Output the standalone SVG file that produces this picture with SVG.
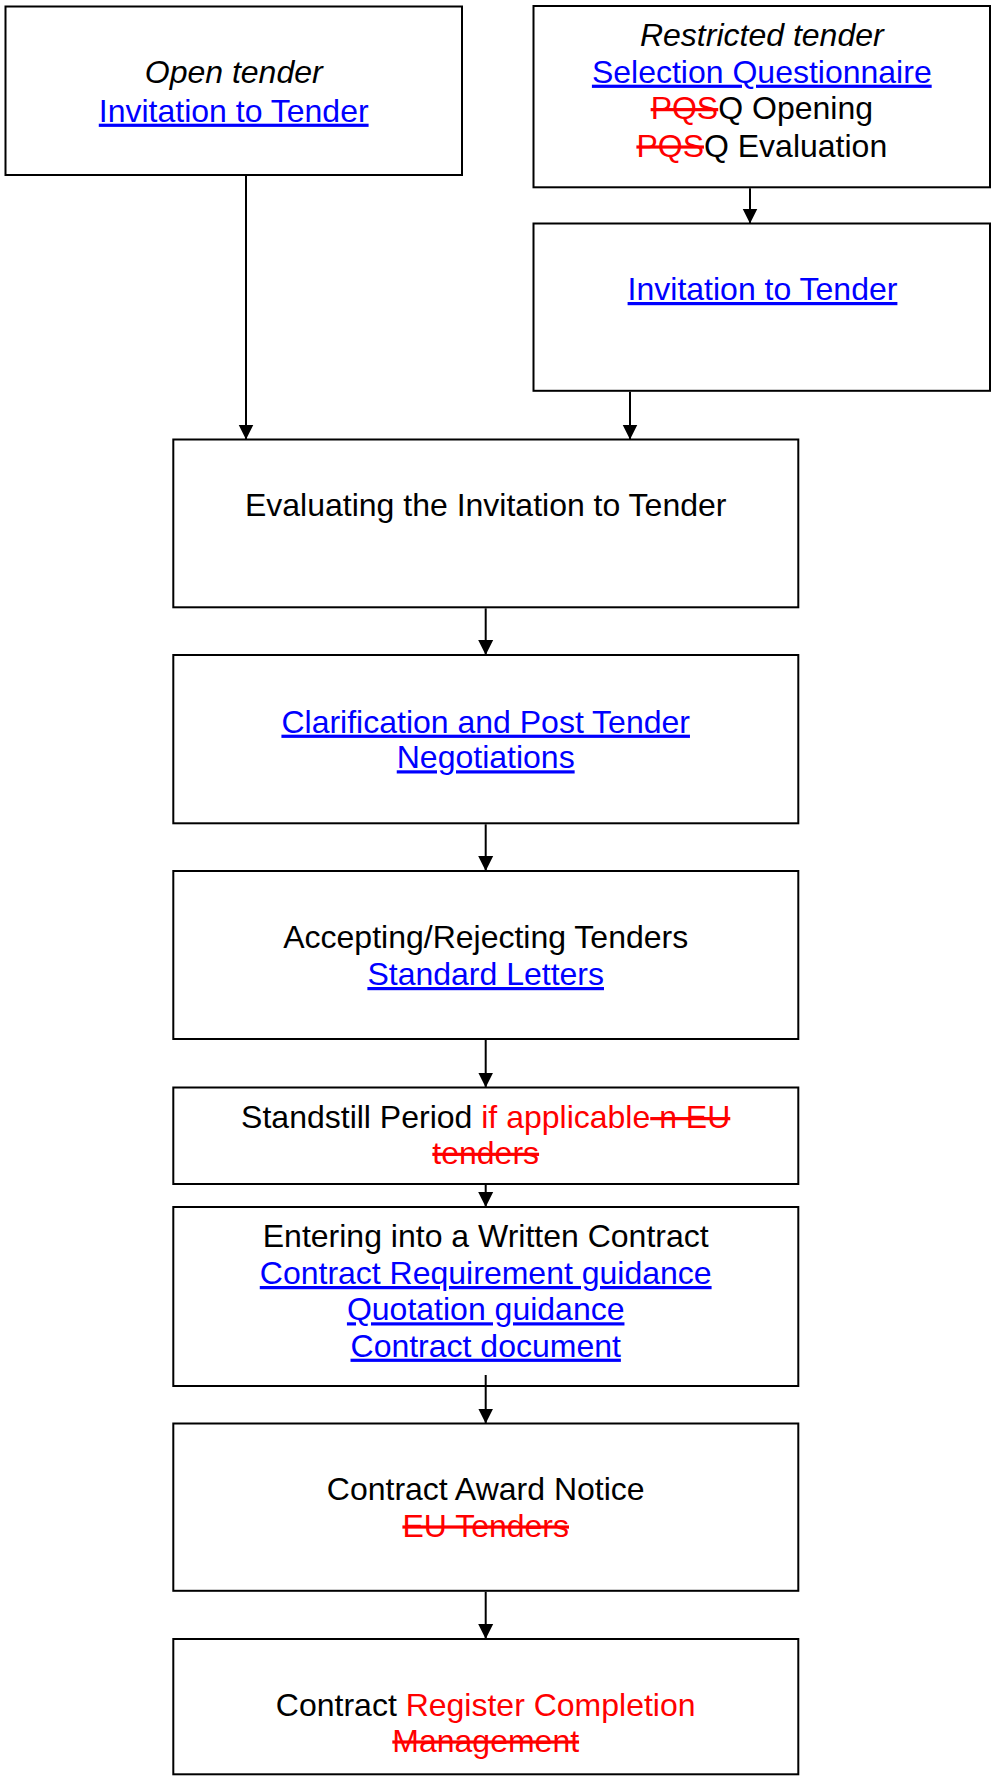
<svg xmlns="http://www.w3.org/2000/svg" width="995" height="1777" viewBox="0 0 995 1777">
<style>
.box{fill:#fff;stroke:#000;stroke-width:2}
text{font-family:"Liberation Sans",Arial,sans-serif;font-size:32px;fill:#000;text-anchor:middle}
.it{font-style:italic}
.lnk{fill:#0000ff;text-decoration:underline}
.red{fill:#ff0000}
.del{fill:#ff0000;text-decoration:line-through}
.conn line{stroke:#000;stroke-width:2;marker-end:url(#ah)}
</style>
<defs>
<marker id="ah" markerUnits="userSpaceOnUse" markerWidth="16" markerHeight="16" refX="15" refY="8" orient="auto">
<path d="M0,0.5 L15,8 L0,15.5 z" fill="#000"/>
</marker>
</defs>
<rect width="995" height="1777" fill="#fff"/>
<g id="open-tender">
<rect class="box" x="5.5" y="6.5" width="456.5" height="168.5"/>
<text x="233.7" y="83.3" class="it">Open tender</text>
<text x="233.7" y="121.7" class="lnk">Invitation to Tender</text>
</g>
<g id="restricted-tender">
<rect class="box" x="533.5" y="6" width="456.5" height="181.3"/>
<text x="761.8" y="45.7" class="it">Restricted tender</text>
<text x="761.8" y="82.7" class="lnk">Selection Questionnaire</text>
<text x="761.8" y="119.3"><tspan class="del">PQS</tspan>Q Opening</text>
<text x="761.8" y="156.7"><tspan class="del">PQS</tspan>Q Evaluation</text>
</g>
<g id="restricted-itt">
<rect class="box" x="533.5" y="223.5" width="456.5" height="167.3"/>
<text x="762.5" y="300" class="lnk">Invitation to Tender</text>
</g>
<g id="evaluating">
<rect class="box" x="173.3" y="439.5" width="625" height="167.8"/>
<text x="485.7" y="516">Evaluating the Invitation to Tender</text>
</g>
<g id="clarification">
<rect class="box" x="173.3" y="655" width="625" height="168.3"/>
<text x="485.7" y="732.7" class="lnk">Clarification and Post Tender</text>
<text x="485.7" y="768.3" class="lnk">Negotiations</text>
</g>
<g id="accepting">
<rect class="box" x="173.3" y="871" width="625" height="168"/>
<text x="485.7" y="948.3">Accepting/Rejecting Tenders</text>
<text x="485.7" y="985" class="lnk">Standard Letters</text>
</g>
<g id="standstill">
<rect class="box" x="173.3" y="1087.5" width="625" height="96.5"/>
<text x="485.7" y="1128.3">Standstill Period <tspan class="red">if applicable</tspan><tspan class="del"> n EU</tspan></text>
<text x="485.7" y="1164" class="del">tenders</text>
</g>
<g id="written-contract">
<rect class="box" x="173.3" y="1207" width="625" height="179"/>
<text x="485.7" y="1247.3">Entering into a Written Contract</text>
<text x="485.7" y="1284" class="lnk">Contract Requirement guidance</text>
<text x="485.7" y="1320.3" class="lnk">Quotation guidance</text>
<text x="485.7" y="1356.7" class="lnk">Contract document</text>
</g>
<g id="award-notice">
<rect class="box" x="173.3" y="1423.5" width="625" height="167.3"/>
<text x="485.7" y="1500">Contract Award Notice</text>
<text x="485.7" y="1536.7" class="del">EU Tenders</text>
</g>
<g id="contract-register">
<rect class="box" x="173.3" y="1639" width="625" height="135.3"/>
<text x="485.7" y="1716">Contract <tspan class="red">Register Completion</tspan></text>
<text x="485.7" y="1751.7" class="del">Management</text>
</g>
<g id="connectors" class="conn">
<line x1="246" y1="176" x2="246" y2="439.5"/>
<line x1="750" y1="188.3" x2="750" y2="223.5"/>
<line x1="630" y1="391.8" x2="630" y2="439.5"/>
<line x1="485.7" y1="608.3" x2="485.7" y2="655"/>
<line x1="485.7" y1="824.3" x2="485.7" y2="871"/>
<line x1="485.7" y1="1040" x2="485.7" y2="1087.5"/>
<line x1="485.7" y1="1185" x2="485.7" y2="1207"/>
<line x1="485.7" y1="1375" x2="485.7" y2="1423.5"/>
<line x1="485.7" y1="1591.8" x2="485.7" y2="1639"/>
</g>
</svg>
